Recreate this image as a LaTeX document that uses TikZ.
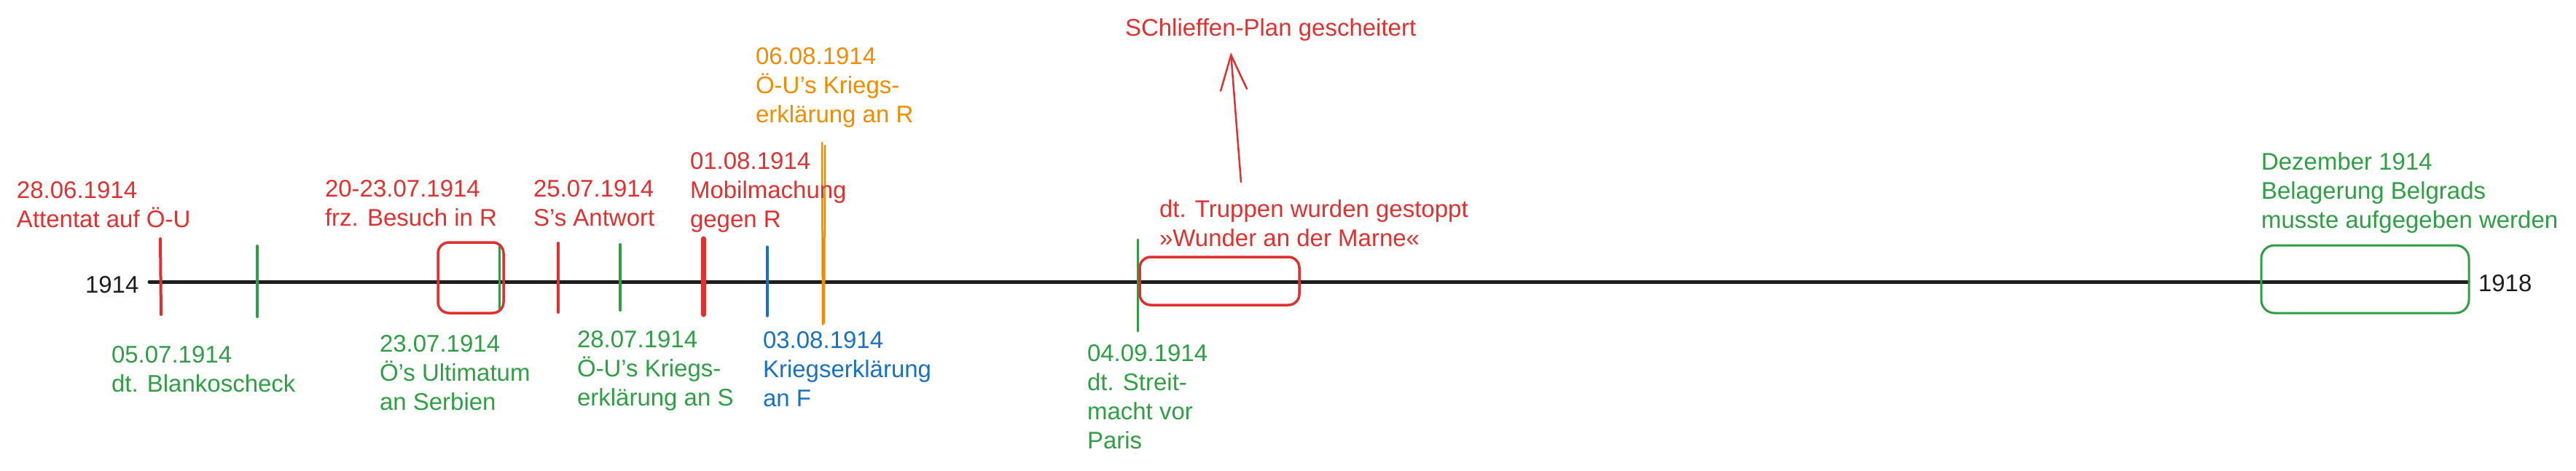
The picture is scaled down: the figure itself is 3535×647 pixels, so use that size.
\documentclass[tikz,border=0pt]{standalone}
\usepackage{fontspec}
\setmainfont{Liberation Sans}
\usetikzlibrary{arrows.meta}
\definecolor{exred}{HTML}{E03131}
\definecolor{exgreen}{HTML}{2F9E44}
\definecolor{exblue}{HTML}{1971C2}
\definecolor{exorange}{HTML}{F08C00}
\definecolor{exblack}{HTML}{1E1E1E}
\newcommand{\fst}{\rule{0pt}{33pt}}
\begin{document}
\begin{tikzpicture}[x=1pt,y=-1pt,
  lbl/.style={anchor=north west, inner sep=0pt, outer sep=0pt, align=left,
              font=\fontsize{33}{40}\selectfont},
  tick/.style={line width=4pt, line cap=round},
  boxline/.style={line width=3.5pt},
  timeline/.style={line width=5pt, exblack, line cap=round}]
\useasboundingbox (0,0) rectangle (3535,647);
\fill[white] (0,0) rectangle (3535,647);

% timeline
\coordinate (tlStart) at (205,387);
\coordinate (tlEnd) at (3387,387);
\draw[timeline] (tlStart) -- (tlEnd);
\node[lbl, exblack] (y1914) at (117,369) {\fst 1914};
\node[lbl, exblack] (y1918) at (3401,367) {\fst 1918};

% ticks
\draw[tick, exred]    (220,328) -- (221,432);
\draw[tick, exgreen]  (353,338) -- (353,435);
\draw[tick, exgreen, line width=3pt]  (685,338) -- (685,425);
\draw[boxline, exred, rounded corners=15pt] (601,333) rectangle (691,430);
\draw[tick, exred]    (766,334) -- (766,429);
\draw[tick, exgreen]  (851,336) -- (851,426);
\draw[tick, exred, line width=7pt] (965,328) -- (965,432);
\draw[tick, exblue, line width=3.5pt]   (1053,339) -- (1053,434);
\draw[tick, exorange, line width=2.5pt] (1128,196) -- (1129,446);
\draw[tick, exorange, line width=2.5pt] (1132,200) -- (1131,444);
\draw[tick, exgreen, line width=3pt]  (1561,329) -- (1561,455);
\draw[boxline, exred, rounded corners=15pt] (1564,353) rectangle (1783,419);
\draw[boxline, exgreen, line width=3pt, rounded corners=18pt] (3103,337) rectangle (3388,430);

% labels above
\node[lbl, exred] (l2806) at (23,239) {\fst 28.06.1914\\Attentat auf Ö-U};
\node[lbl, exred] (l2023) at (446,237) {\fst 20-23.07.1914\\frz. Besuch in R};
\node[lbl, exred] (l2507) at (732,237) {\fst 25.07.1914\\S's Antwort};
\node[lbl, exred] (l0108) at (947,199) {\fst 01.08.1914\\Mobilmachung\\gegen R};
\node[lbl, exorange] (l0608) at (1037,56) {\fst 06.08.1914\\Ö-U's Kriegs-\\erklärung an R};
\node[lbl, exred] (schlieffen) at (1544,17) {\fst SChlieffen-Plan gescheitert};
\node[lbl, exred] (marne) at (1591,265) {\fst dt. Truppen wurden gestoppt\\»Wunder an der Marne«};
\node[lbl, exgreen] (belgrad) at (3103,200) {\fst Dezember 1914\\Belagerung Belgrads\\musste aufgegeben werden};

% labels below
\node[lbl, exgreen] (l0507) at (153,465) {\fst 05.07.1914\\dt. Blankoscheck};
\node[lbl, exgreen] (l2307) at (521,450) {\fst 23.07.1914\\Ö's Ultimatum\\an Serbien};
\node[lbl, exgreen] (l2807) at (792,444) {\fst 28.07.1914\\Ö-U's Kriegs-\\erklärung an S};
\node[lbl, exblue] (l0308) at (1047,445) {\fst 03.08.1914\\Kriegserklärung\\an F};
\node[lbl, exgreen] (l0409) at (1492,463) {\fst 04.09.1914\\dt. Streit-\\macht vor\\Paris};

% arrow
\coordinate (arrTail) at (1703,250);
\coordinate (arrTip) at (1689,72);
\draw[exred, line width=2.5pt, line cap=round, -{Straight Barb[length=48pt,width=36pt,line cap=round]}] (arrTail) -- (arrTip);
\end{tikzpicture}
\end{document}
